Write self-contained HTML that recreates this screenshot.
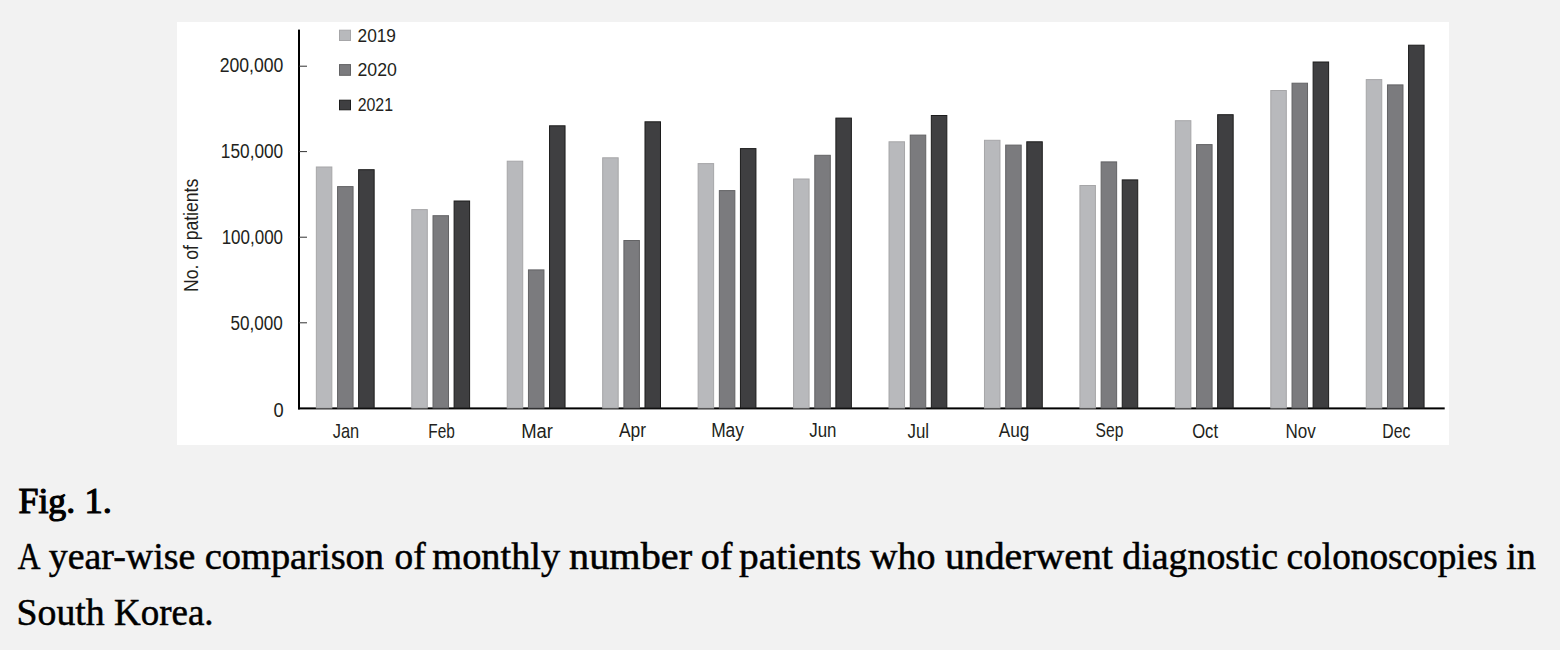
<!DOCTYPE html>
<html><head><meta charset="utf-8">
<style>
html,body{margin:0;padding:0;}
body{width:1560px;height:650px;background:#f2f2f2;position:relative;overflow:hidden;}
.box{position:absolute;left:177px;top:22px;width:1272px;height:423px;background:#fff;}
svg{position:absolute;left:0;top:0;}
.ax text{font-family:"Liberation Sans",sans-serif;fill:#231f20;}
.cap text{font-family:"Liberation Serif",serif;fill:#000;stroke:#000;stroke-width:0.5px;}
</style></head>
<body>
<div class="box"></div>
<svg width="1560" height="650" viewBox="0 0 1560 650">
<g class="ax">
<rect x="298" y="29.6" width="2" height="379.8" fill="#000"/>
<rect x="298" y="407.4" width="1146.7" height="2" fill="#000"/>
<rect x="299" y="65.70" width="8" height="1" fill="#333"/>
<rect x="299" y="151.10" width="8" height="1" fill="#333"/>
<rect x="299" y="236.70" width="8" height="1" fill="#333"/>
<rect x="299" y="322.30" width="8" height="1" fill="#333"/>
<rect x="316.34" y="167.00" width="15.50" height="241.00" fill="#b8b9bc" stroke="#a6a6a8"/>
<rect x="337.56" y="186.60" width="15.50" height="221.40" fill="#7b7b7e" stroke="#636365"/>
<rect x="358.65" y="169.70" width="15.50" height="238.30" fill="#3f3f41" stroke="#1c1c1c"/>
<rect x="411.79" y="209.60" width="15.50" height="198.40" fill="#b8b9bc" stroke="#a6a6a8"/>
<rect x="433.01" y="215.70" width="15.50" height="192.30" fill="#7b7b7e" stroke="#636365"/>
<rect x="454.10" y="201.00" width="15.50" height="207.00" fill="#3f3f41" stroke="#1c1c1c"/>
<rect x="507.23" y="161.20" width="15.50" height="246.80" fill="#b8b9bc" stroke="#a6a6a8"/>
<rect x="528.45" y="269.90" width="15.50" height="138.10" fill="#7b7b7e" stroke="#636365"/>
<rect x="549.54" y="125.80" width="15.50" height="282.20" fill="#3f3f41" stroke="#1c1c1c"/>
<rect x="602.68" y="157.80" width="15.50" height="250.20" fill="#b8b9bc" stroke="#a6a6a8"/>
<rect x="623.90" y="240.50" width="15.50" height="167.50" fill="#7b7b7e" stroke="#636365"/>
<rect x="644.99" y="121.80" width="15.50" height="286.20" fill="#3f3f41" stroke="#1c1c1c"/>
<rect x="698.13" y="163.60" width="15.50" height="244.40" fill="#b8b9bc" stroke="#a6a6a8"/>
<rect x="719.35" y="190.60" width="15.50" height="217.40" fill="#7b7b7e" stroke="#636365"/>
<rect x="740.44" y="148.60" width="15.50" height="259.40" fill="#3f3f41" stroke="#1c1c1c"/>
<rect x="793.58" y="179.00" width="15.50" height="229.00" fill="#b8b9bc" stroke="#a6a6a8"/>
<rect x="814.80" y="155.30" width="15.50" height="252.70" fill="#7b7b7e" stroke="#636365"/>
<rect x="835.88" y="118.10" width="15.50" height="289.90" fill="#3f3f41" stroke="#1c1c1c"/>
<rect x="889.02" y="141.80" width="15.50" height="266.20" fill="#b8b9bc" stroke="#a6a6a8"/>
<rect x="910.24" y="135.10" width="15.50" height="272.90" fill="#7b7b7e" stroke="#636365"/>
<rect x="931.33" y="115.50" width="15.50" height="292.50" fill="#3f3f41" stroke="#1c1c1c"/>
<rect x="984.47" y="140.30" width="15.50" height="267.70" fill="#b8b9bc" stroke="#a6a6a8"/>
<rect x="1005.69" y="145.10" width="15.50" height="262.90" fill="#7b7b7e" stroke="#636365"/>
<rect x="1026.78" y="141.80" width="15.50" height="266.20" fill="#3f3f41" stroke="#1c1c1c"/>
<rect x="1079.92" y="185.50" width="15.50" height="222.50" fill="#b8b9bc" stroke="#a6a6a8"/>
<rect x="1101.14" y="161.90" width="15.50" height="246.10" fill="#7b7b7e" stroke="#636365"/>
<rect x="1122.23" y="179.90" width="15.50" height="228.10" fill="#3f3f41" stroke="#1c1c1c"/>
<rect x="1175.36" y="120.70" width="15.50" height="287.30" fill="#b8b9bc" stroke="#a6a6a8"/>
<rect x="1196.58" y="144.60" width="15.50" height="263.40" fill="#7b7b7e" stroke="#636365"/>
<rect x="1217.67" y="114.70" width="15.50" height="293.30" fill="#3f3f41" stroke="#1c1c1c"/>
<rect x="1270.81" y="90.50" width="15.50" height="317.50" fill="#b8b9bc" stroke="#a6a6a8"/>
<rect x="1292.03" y="83.20" width="15.50" height="324.80" fill="#7b7b7e" stroke="#636365"/>
<rect x="1313.12" y="62.00" width="15.50" height="346.00" fill="#3f3f41" stroke="#1c1c1c"/>
<rect x="1366.26" y="79.60" width="15.50" height="328.40" fill="#b8b9bc" stroke="#a6a6a8"/>
<rect x="1387.48" y="84.90" width="15.50" height="323.10" fill="#7b7b7e" stroke="#636365"/>
<rect x="1408.57" y="45.20" width="15.50" height="362.80" fill="#3f3f41" stroke="#1c1c1c"/>
<rect x="339.5" y="30.2" width="11" height="10.3" fill="#b8b9bc" stroke="#a6a6a8"/>
<rect x="339.5" y="64.6" width="11" height="10.7" fill="#7b7b7e" stroke="#636365"/>
<rect x="339.5" y="100.2" width="11" height="9.6" fill="#3f3f41" stroke="#1c1c1c"/>
<text transform="translate(283.34,71.80) scale(0.8996,1)" text-anchor="end" font-size="19.6">200,000</text>
<text transform="translate(283.22,157.70) scale(0.8803,1)" text-anchor="end" font-size="19.6">150,000</text>
<text transform="translate(283.07,243.70) scale(0.8674,1)" text-anchor="end" font-size="19.6">100,000</text>
<text transform="translate(282.82,329.70) scale(0.8747,1)" text-anchor="end" font-size="19.6">50,000</text>
<text transform="translate(283.56,416.90) scale(0.9344,1)" text-anchor="end" font-size="19.6">0</text>
<text transform="translate(357.51,42.00) scale(0.9108,1)" text-anchor="start" font-size="19">2019</text>
<text transform="translate(357.51,76.40) scale(0.9329,1)" text-anchor="start" font-size="19">2020</text>
<text transform="translate(357.67,111.40) scale(0.8383,1)" text-anchor="start" font-size="19">2021</text>
<text transform="translate(198.36,292.00) rotate(-90) scale(0.9001,1)" text-anchor="start" font-size="19.5">No. of patients</text>
<text transform="translate(345.95,437.60) scale(0.8218,1)" text-anchor="middle" font-size="20">Jan</text>
<text transform="translate(441.59,437.60) scale(0.7703,1)" text-anchor="middle" font-size="20">Feb</text>
<text transform="translate(537.12,437.60) scale(0.9239,1)" text-anchor="middle" font-size="20">Mar</text>
<text transform="translate(632.48,437.20) scale(0.8716,1)" text-anchor="middle" font-size="20">Apr</text>
<text transform="translate(727.56,437.20) scale(0.8699,1)" text-anchor="middle" font-size="20">May</text>
<text transform="translate(822.89,437.20) scale(0.8454,1)" text-anchor="middle" font-size="20">Jun</text>
<text transform="translate(918.34,437.60) scale(0.8429,1)" text-anchor="middle" font-size="20">Jul</text>
<text transform="translate(1014.05,437.20) scale(0.8576,1)" text-anchor="middle" font-size="20">Aug</text>
<text transform="translate(1109.44,437.20) scale(0.7797,1)" text-anchor="middle" font-size="20">Sep</text>
<text transform="translate(1205.09,437.60) scale(0.8333,1)" text-anchor="middle" font-size="20">Oct</text>
<text transform="translate(1300.60,437.60) scale(0.8520,1)" text-anchor="middle" font-size="20">Nov</text>
<text transform="translate(1396.33,437.60) scale(0.7885,1)" text-anchor="middle" font-size="20">Dec</text>
</g>
<g class="cap">
<text transform="translate(17.78,569.00) scale(0.8503,1)" text-anchor="start" font-size="37">A</text>
<text transform="translate(48.79,569.00) scale(1.0242,1)" text-anchor="start" font-size="37">year-wise</text>
<text transform="translate(204.70,569.00) scale(1.0396,1)" text-anchor="start" font-size="37">comparison</text>
<text transform="translate(394.62,569.00) scale(1.0104,1)" text-anchor="start" font-size="37">of</text>
<text transform="translate(432.34,569.00) scale(1.0368,1)" text-anchor="start" font-size="37">monthly</text>
<text transform="translate(569.06,569.00) scale(1.0885,1)" text-anchor="start" font-size="37">number</text>
<text transform="translate(700.78,569.00) scale(1.0281,1)" text-anchor="start" font-size="37">of</text>
<text transform="translate(739.12,569.00) scale(1.0632,1)" text-anchor="start" font-size="37">patients</text>
<text transform="translate(870.02,569.00) scale(1.0277,1)" text-anchor="start" font-size="37">who</text>
<text transform="translate(944.90,569.00) scale(1.0764,1)" text-anchor="start" font-size="37">underwent</text>
<text transform="translate(1122.29,569.00) scale(1.0237,1)" text-anchor="start" font-size="37">diagnostic</text>
<text transform="translate(1286.62,569.00) scale(1.0075,1)" text-anchor="start" font-size="37">colonoscopies</text>
<text transform="translate(1506.22,569.00) scale(1.0315,1)" text-anchor="start" font-size="37">in</text>
<text transform="translate(16.55,624.50) scale(1.0202,1)" text-anchor="start" font-size="37">South</text>
<text transform="translate(113.91,624.50) scale(1.0002,1)" text-anchor="start" font-size="37">Korea.</text>
<text transform="translate(18.50,512.90) scale(1.0237,1)" text-anchor="start" font-size="35" style="stroke-width:1.15px">Fig.</text>
<text transform="translate(84.59,512.90) scale(1.0436,1)" text-anchor="start" font-size="35" style="stroke-width:1.15px">1.</text>
</g>
</svg>
</body></html>
